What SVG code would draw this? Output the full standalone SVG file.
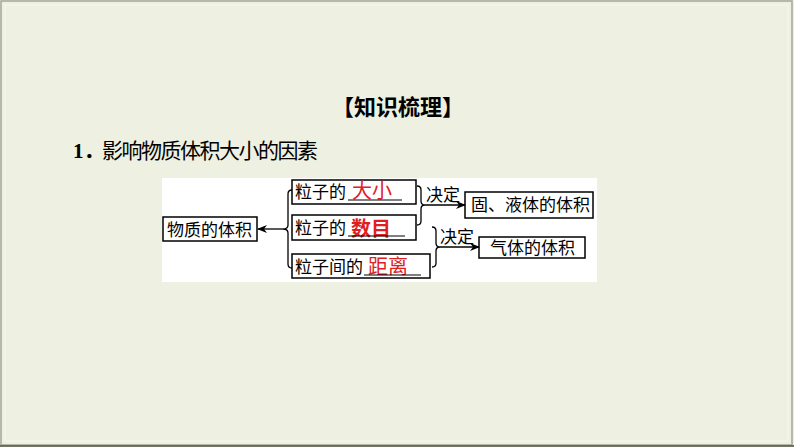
<svg xmlns="http://www.w3.org/2000/svg" width="794" height="447" viewBox="0 0 794 447">
<defs>
<style>
.bx{fill:none;stroke:#000;stroke-width:1.5}
.ln{fill:none;stroke:#000;stroke-width:1.3}
.ul{stroke:#000;stroke-width:1}
.t{font-family:"Liberation Serif","Noto Sans CJK SC",serif;font-size:17px;fill:#000}
.r{font-family:"Liberation Serif","Noto Sans CJK SC",serif;font-size:20px;fill:#E0201F}
</style>
<marker id="ah" viewBox="0 0 10 10" refX="9" refY="5" markerWidth="10" markerHeight="10" markerUnits="userSpaceOnUse" orient="auto">
<path d="M0,1 L10,5 L0,9 L3,5 Z" fill="#000"/>
</marker>
</defs>
<rect x="0" y="0" width="794" height="447" fill="#EEF0E2"/>
<rect x="1" y="1" width="791" height="444" fill="none" stroke="#A2A894" stroke-width="1.5"/>
<rect x="5" y="5" width="783" height="436" fill="none" stroke="#F6F8EE" stroke-width="1"/>
<line x1="0" y1="446" x2="794" y2="446" stroke="#4A5040" stroke-width="1.5"/>

<text x="398" y="115" text-anchor="middle" font-family="Liberation Serif,'Noto Sans CJK SC',serif" font-size="22" font-weight="bold" fill="#000">【知识梳理】</text>
<text x="73" y="158" font-family="Liberation Serif,'Noto Sans CJK SC',serif" font-size="21" font-weight="bold" fill="#000">1．</text>
<text x="102" y="158" font-family="'Noto Sans CJK SC',sans-serif" font-size="21" textLength="216" fill="#000">影响物质体积大小的因素</text>

<rect x="162" y="178" width="435" height="104" fill="#FFFFFF"/>

<g id="connectors">
<path class="ln" d="M292 190 Q288 190 288 194 L288 225 Q288 229 283 229 Q288 229 288 233 L288 264 Q288 268 292 268"/>
<line class="ln" x1="283" y1="229" x2="258" y2="229" marker-end="url(#ah)"/>
<path class="ln" d="M417 186 Q421 186 421 190 L421 201 Q421 205 425 205 Q421 205 421 209 L421 221 Q421 225 417 225"/>
<line class="ln" x1="425" y1="205" x2="465" y2="205" marker-end="url(#ah)"/>
<text class="t" x="426" y="201" font-size="16">决定</text>
<path class="ln" d="M432 227 Q436 227 436 231 L436 243 Q436 247 440 247 Q436 247 436 251 L436 263 Q436 267 432 267"/>
<line class="ln" x1="440" y1="247" x2="479" y2="247" marker-end="url(#ah)"/>
<text class="t" x="440" y="243" font-size="16">决定</text>
</g>

<g id="n-volume">
<rect class="bx" x="163" y="217" width="94" height="24"/>
<text class="t" x="167" y="236">物质的体积</text>
</g>
<g id="n-size">
<rect class="bx" x="292" y="180" width="124" height="24"/>
<text class="t" x="295" y="198">粒子的</text>
<text class="r" x="352" y="198">大小</text>
<line class="ul" x1="348" y1="200" x2="402" y2="200"/>
</g>
<g id="n-number">
<rect class="bx" x="292" y="215" width="124" height="25"/>
<text class="t" x="295" y="234">粒子的</text>
<text class="r" x="351" y="236" font-weight="bold" font-size="19">数目</text>
<line class="ul" x1="348" y1="236" x2="405" y2="236"/>
</g>
<g id="n-distance">
<rect class="bx" x="292" y="254" width="138" height="24"/>
<text class="t" x="295" y="273">粒子间的</text>
<text class="r" x="368" y="274">距离</text>
<line class="ul" x1="364" y1="275" x2="421" y2="275"/>
</g>
<g id="n-solid">
<rect class="bx" x="465" y="192" width="128" height="26"/>
<text class="t" x="471" y="211" font-size="16.5">固、液体的体积</text>
</g>
<g id="n-gas">
<rect class="bx" x="479" y="237" width="106" height="21"/>
<text class="t" x="490" y="254">气体的体积</text>
</g>
</svg>
